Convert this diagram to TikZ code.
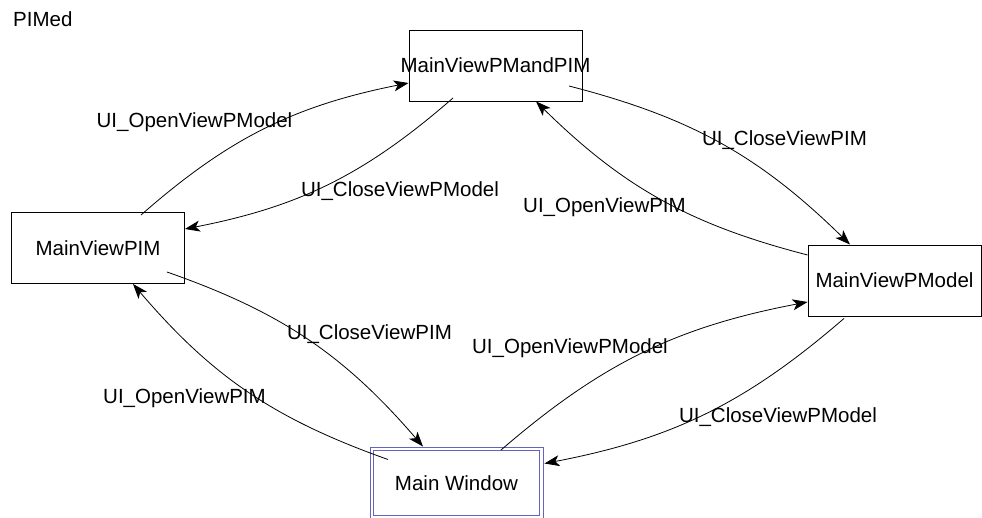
\documentclass[tikz,border=0pt]{standalone}
\usepackage{fontspec}
\setmainfont{Liberation Sans}
\usetikzlibrary{arrows.meta}
\definecolor{mwblue}{RGB}{100,100,190}

\begin{document}
\begin{tikzpicture}[x=1pt,y=-1pt,
  every node/.style={font=\fontsize{20.5}{24}\selectfont},
  statebox/.style={draw=black, line width=0.9pt, minimum width=173pt,
    minimum height=71pt, inner sep=0pt, text height=14.5pt, text depth=0pt},
  mainbox/.style={statebox, draw=mwblue, minimum height=72pt},
  innerframe/.style={draw=mwblue, line width=0.9pt},
  trans/.style={-{Stealth[length=15pt,width=11pt,inset=4pt]},
    line width=0.8pt, bend left=15},
  evt/.style={anchor=base, inner sep=0pt}
]
\useasboundingbox (0,0) rectangle (982,518);

% title
\node[anchor=base west, inner sep=0pt] (title) at (13,27) {PIMed};

% states
\node[statebox] (pmpim)  at (495.5,65.5)  {\makebox[0pt]{MainViewPMandPIM}};
\node[statebox] (pim)    at (98,248)      {MainViewPIM};
\node[statebox] (pmodel) at (894.5,280.5) {MainViewPModel};
\node[mainbox]  (mw)     at (456.5,483)   {Main Window};
% second frame of the initial state
\draw[innerframe] ([shift={(4pt,4pt)}]mw.south west) rectangle ([shift={(-4pt,-4pt)}]mw.north east);

% transitions
\draw[trans] ([xshift=43pt,yshift=33pt]pim.center) to ([yshift=-17.5pt]pmpim.west);
\draw[trans] ([xshift=-42.5pt,yshift=-32.5pt]pmpim.center) to ([yshift=19pt]pim.east);
\draw[trans] ([xshift=73.5pt,yshift=-20.5pt]pmpim.center) to ([xshift=-44.5pt]pmodel.north);
\draw[trans] ([yshift=25.5pt]pmodel.west) to ([xshift=40.5pt]pmpim.south);
\draw[trans] ([xshift=69pt,yshift=-24pt]pim.center) to ([xshift=-33.5pt]mw.north);
\draw[trans] ([xshift=-68.5pt,yshift=23.5pt]mw.center) to ([xshift=35pt]pim.south);
\draw[trans] ([xshift=44.5pt,yshift=33pt]mw.center) to ([yshift=-21.5pt]pmodel.west);
\draw[trans] ([xshift=-50.5pt,yshift=-2pt]pmodel.south) to ([xshift=1pt,yshift=19.5pt]mw.east);

% transition labels
\node[evt] (l1) at (194.5,128) {UI\_OpenViewPModel};
\node[evt] (l2) at (400,197)   {UI\_CloseViewPModel};
\node[evt] (l3) at (784.5,146) {UI\_CloseViewPIM};
\node[evt] (l4) at (604.5,213) {UI\_OpenViewPIM};
\node[evt] (l5) at (369.5,340) {UI\_CloseViewPIM};
\node[evt] (l6) at (184.5,403) {UI\_OpenViewPIM};
\node[evt] (l7) at (570,354)   {UI\_OpenViewPModel};
\node[evt] (l8) at (778,422)   {UI\_CloseViewPModel};
\end{tikzpicture}
\end{document}
